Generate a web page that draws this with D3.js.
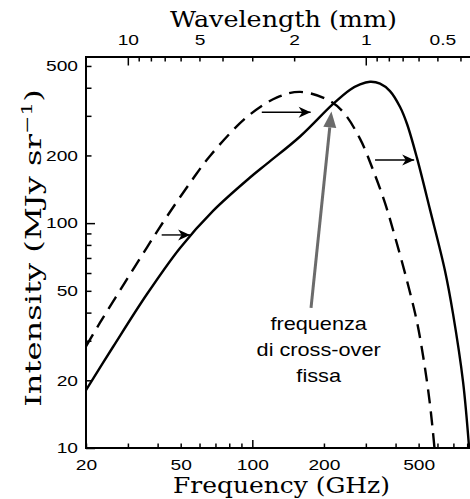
<!DOCTYPE html>
<html>
<head>
<meta charset="utf-8">
<script src="https://cdn.jsdelivr.net/npm/d3@7"></script>
<style>
  body { margin: 0; background: #fff; }
  svg { display: block; }
</style>
</head>
<body>
<svg id="chart" width="470" height="499"></svg>
<script>
// solid curve (GHz, MJy/sr)
var freqSolid = [20, 26, 36.1, 49.7, 68.4, 97.8, 115.3, 158.7, 218, 257.6, 283.7, 312.5, 344.2, 379, 417.8, 447, 492, 558.6, 645.6, 697.6, 768.6, 815]
var intSolid  = [18.1, 28.2, 48.4, 77.6, 113.4, 159.5, 183.9, 242.8, 338, 392, 414, 425, 417.4, 386.6, 328.5, 276, 195, 114.5, 61.3, 39.5, 19.7, 10]
// dashed curve
var freqDashed = [20, 22.9, 28.6, 36.1, 43.8, 55.8, 66.4, 95, 127.1, 158.7, 206, 240.6, 283.7, 321.6, 361, 398, 447, 492, 527, 558.6, 583]
var intDashed  = [28.3, 36.1, 52.7, 78.1, 107.2, 155.4, 199, 296.8, 362.4, 383.3, 355, 312.4, 236.9, 172.5, 123, 86.8, 55.3, 36.4, 24.1, 15.5, 10]

var freqTicks  = [20, 30, 40, 50, 60, 70, 80, 90, 100, 200, 300, 400, 500, 600, 700, 800]
var freqLabels = [20, 50, 100, 200, 500]
var intTicks   = [10, 20, 30, 40, 50, 60, 70, 80, 90, 100, 200, 300, 400, 500]
var intLabels  = [10, 20, 50, 100, 200, 500]
var waveTicks  = [10, 9, 8, 7, 6, 5, 4, 3, 2, 1, 0.9, 0.8, 0.7, 0.6, 0.5, 0.4]
var waveLabels = [10, 5, 2, 1, 0.5]

// shift arrows (from -> to, at intensity level)
var arrowFrom  = [41.6, 109.6, 328]
var arrowTo    = [55.3, 177.6, 483.6]
var arrowLevel = [88.6, 311, 191]
// grey pointer: [start, tip]
var pointerFreq = [176.5, 215]
var pointerInt  = [42, 314]
var noteLines = ['frequenza', 'di cross-over', 'fissa']

var C = 299.79  // GHz * mm
var mLeft = 86, mRight = 470, mTop = 57, mBottom = 448

var x = d3.scaleLog().domain([20, 822]).range([mLeft, mRight])
var xw = d3.scaleLog().domain([C / 20, C / 822]).range([mLeft, mRight])
var y = d3.scaleLog().domain([10, 548]).range([mBottom, mTop])

var svg = d3.select('#chart')

var sx = 1.28  // labels in the source look horizontally stretched

function styleAxis(g, longTicks, isLong, dir){
  g.select('.domain').remove()
  g.selectAll('.tick line')
    .attr('stroke', '#000').attr('stroke-width', 1.5)
    .each(function(d){
      if (longTicks.indexOf(d) >= 0) d3.select(this).attr(dir, isLong)
    })
  g.selectAll('.tick text')
    .attr('font-family', 'Liberation Sans, Arial, sans-serif')
    .attr('font-size', 15)
    .attr('fill', '#000')
}

// bottom axis
var gb = svg.append('g').attr('transform', 'translate(0,' + mBottom + ')')
  .call(d3.axisBottom(x).tickValues(freqTicks)
    .tickFormat(function(d){ return freqLabels.indexOf(d) >= 0 ? d : '' })
    .tickSizeInner(-4.5).tickSizeOuter(0).tickPadding(11))
styleAxis(gb, [100], -8, 'y2')
gb.selectAll('.tick text').attr('transform', 'scale(' + sx + ',1)')

// left axis
var gl = svg.append('g').attr('transform', 'translate(' + mLeft + ',0)')
  .call(d3.axisLeft(y).tickValues(intTicks)
    .tickFormat(function(d){ return intLabels.indexOf(d) >= 0 ? d : '' })
    .tickSizeInner(-5.5).tickSizeOuter(0).tickPadding(8))
styleAxis(gl, [10, 100], 9, 'x2')
gl.selectAll('.tick text').attr('x', -8 / sx).attr('transform', 'scale(' + sx + ',1)')

// top axis (wavelength)
var gt = svg.append('g').attr('transform', 'translate(0,' + mTop + ')')
  .call(d3.axisTop(xw).tickValues(waveTicks)
    .tickFormat(function(d){ return waveLabels.indexOf(d) >= 0 ? d : '' })
    .tickSizeInner(-4.5).tickSizeOuter(0).tickPadding(12))
styleAxis(gt, [10, 1], 8.5, 'y2')
gt.selectAll('.tick text').attr('transform', 'scale(' + sx + ',1)')
  .attr('dx', function(d){ return d == 0.5 ? 5 / sx : 0 })

// frame
svg.append('path')
  .attr('d', 'M' + (mRight + 2) + ',' + mTop + 'H' + mLeft + 'V' + mBottom + 'H' + (mRight + 2))
  .attr('fill', 'none').attr('stroke', '#000').attr('stroke-width', 2)

// curves
var line = d3.line()
  .x(function(d){ return x(d[0]) })
  .y(function(d){ return y(d[1]) })
  .curve(d3.curveCatmullRom.alpha(0.5))

svg.append('path')
  .datum(d3.zip(freqSolid, intSolid))
  .attr('d', line)
  .attr('fill', 'none').attr('stroke', '#000').attr('stroke-width', 2.4)

svg.append('path')
  .datum(d3.zip(freqDashed, intDashed))
  .attr('d', line)
  .attr('fill', 'none').attr('stroke', '#000').attr('stroke-width', 2.4)
  .attr('stroke-dasharray', '14,8')

// arrow heads
var defs = svg.append('defs')
defs.append('marker').attr('id', 'blk')
  .attr('viewBox', '-13 -6 14 12').attr('refX', 0).attr('refY', 0)
  .attr('markerWidth', 14).attr('markerHeight', 12)
  .attr('markerUnits', 'userSpaceOnUse').attr('orient', 'auto')
  .append('path').attr('d', 'M0,0L-12,-5.5L-8.5,0L-12,5.5Z').attr('fill', '#000')

svg.selectAll('.shift')
  .data(d3.range(arrowFrom.length))
  .enter().append('line')
  .attr('class', 'shift')
  .attr('x1', function(i){ return x(arrowFrom[i]) })
  .attr('x2', function(i){ return x(arrowTo[i]) - 1 })
  .attr('y1', function(i){ return y(arrowLevel[i]) })
  .attr('y2', function(i){ return y(arrowLevel[i]) })
  .attr('stroke', '#000').attr('stroke-width', 1.4)
  .attr('marker-end', 'url(#blk)')

// grey pointer
var px0 = x(pointerFreq[0]), py0 = y(pointerInt[0])
var px1 = x(pointerFreq[1]), py1 = y(pointerInt[1])
var ang = Math.atan2(py1 - py0, px1 - px0)
var headLen = 16, headW = 6.5
var bx = px1 - headLen * Math.cos(ang), by = py1 - headLen * Math.sin(ang)
svg.append('line')
  .attr('x1', px0).attr('y1', py0).attr('x2', bx).attr('y2', by)
  .attr('stroke', '#6b6b6b').attr('stroke-width', 3)
svg.append('path')
  .attr('d', 'M' + px1 + ',' + py1 +
    'L' + (bx + headW * Math.sin(ang)) + ',' + (by - headW * Math.cos(ang)) +
    'L' + (bx - headW * Math.sin(ang)) + ',' + (by + headW * Math.cos(ang)) + 'Z')
  .attr('fill', '#6b6b6b')

// annotation text
var noteX = x(190), noteY = y(33.5)
svg.selectAll('.note')
  .data(noteLines)
  .enter().append('text')
  .attr('class', 'note')
  .attr('transform', function(d, i){ return 'translate(' + noteX + ',' + (noteY + i * 26) + ') scale(1.24,1)' })
  .attr('text-anchor', 'middle')
  .attr('font-family', 'Liberation Sans, Arial, sans-serif')
  .attr('font-size', 17.5)
  .attr('fill', '#000')
  .text(function(d){ return d })

// axis titles, stretched to the widths seen in the source
function fit(t, w){
  var l = t.node().getComputedTextLength()
  return w / l
}
var titleFont = 'DejaVu Serif, Liberation Serif, serif'

var tTop = svg.append('text').attr('text-anchor', 'middle')
  .attr('font-family', titleFont).attr('font-size', 22).attr('fill', '#000')
  .text('Wavelength (mm)')
tTop.attr('transform', 'translate(283.5,27) scale(' + fit(tTop, 227) + ',1)')

var tBot = svg.append('text').attr('text-anchor', 'middle')
  .attr('font-family', titleFont).attr('font-size', 22).attr('fill', '#000')
  .text('Frequency (GHz)')
tBot.attr('transform', 'translate(281.5,493) scale(' + fit(tBot, 217) + ',1)')

var tLeft = svg.append('text').attr('text-anchor', 'middle')
  .attr('font-family', titleFont).attr('font-size', 22).attr('fill', '#000')
tLeft.append('tspan').text('Intensity (MJy sr')
tLeft.append('tspan').attr('dy', -9).attr('font-size', 15).text('\u22121')
tLeft.append('tspan').attr('dy', 9).text(')')
tLeft.attr('transform', 'translate(41,248) rotate(-90) scale(' + fit(tLeft, 318) + ',1)')
</script>
</body>
</html>
